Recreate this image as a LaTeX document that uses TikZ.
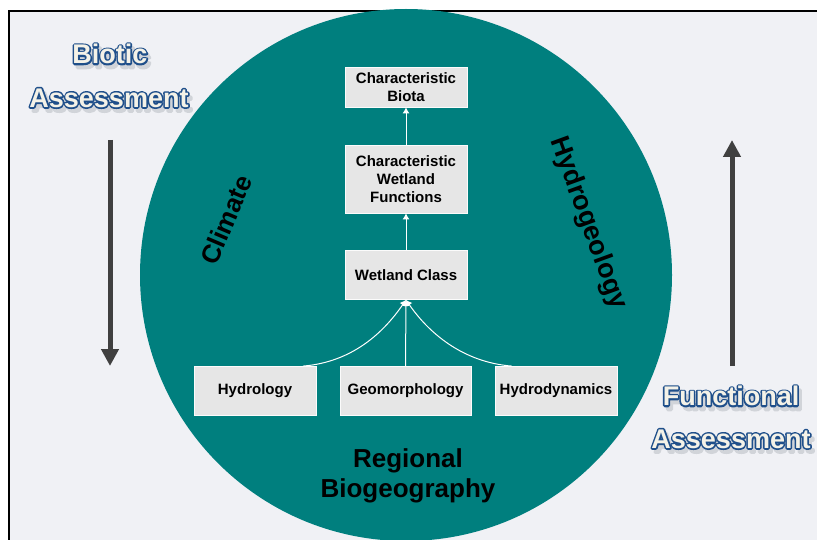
\documentclass[tikz,border=0pt]{standalone}
\usepackage{fontspec}
\setmainfont{Liberation Sans}
\usetikzlibrary{positioning, arrows.meta, calc}
\tikzset{>=latex}

\definecolor{wetteal}{HTML}{007F7E}
\definecolor{panel}{HTML}{F0F1F5}
\definecolor{boxgray}{HTML}{E6E6E6}
\definecolor{darkarrow}{HTML}{404040}
\definecolor{titleblue}{HTML}{1F4E8A}
\definecolor{titlefill}{HTML}{F4F2E8}
\definecolor{shade}{HTML}{D2D3D8}

\tikzset{
    boxnode/.style={draw=white!85!boxgray, line width=0.8pt, fill=boxgray, align=center,
        font=\bfseries\fontsize{15}{18}\selectfont, minimum width=122pt, inner sep=2pt},
    ringlabel/.style={font=\bfseries\fontsize{26}{30}\selectfont, text=black},
    titlefont/.style={font=\bfseries\fontsize{27}{30}\selectfont, inner sep=0pt},
    flow/.style={white, line width=1pt, -{Latex[length=6pt,width=7pt]}},
    bigarrow/.style={darkarrow, line width=5pt, -{Triangle[length=17pt,width=17pt]}}
}

% stroked glyphs (text render mode 2) for the outlined titles
\newcommand{\strokeon}[2]{\special{pdf:literal direct 2 Tr #1 w 1 j #2 RG}}
\newcommand{\strokeoff}{\special{pdf:literal direct 0 Tr}}
\newcommand{\outlinedword}[2]{%
    \node[titlefont, text=shade] at ($(#1)+(3,4)$) {\strokeon{3.2}{0.82 0.83 0.85}#2\strokeoff};
    \node[titlefont, text=titleblue] at (#1) {\strokeon{3.2}{0.12 0.31 0.54}#2\strokeoff};
    \node[titlefont, text=titlefill] at (#1) {#2};
}

\begin{document}
\begin{tikzpicture}[x=1pt, y=-1pt]
    \useasboundingbox (0,0) rectangle (817,540);
    \fill[white] (0,0) rectangle (817,540);
    \draw[black, line width=2pt, fill=panel] (8.5,11.5) rectangle (840,570);

    % the big disc
    \fill[wetteal] (406,275) circle[radius=266];

    % boxes
    \node[boxnode, minimum height=40pt] (biota) at (406,87) {Characteristic\\Biota};
    \node[boxnode, minimum height=68pt] (functions) at (406,179) {Characteristic\\Wetland\\Functions};
    \node[boxnode, minimum height=49pt] (class) at (406,275) {Wetland Class};
    \node[boxnode, minimum height=49pt] (hydrology) at (255,391) {Hydrology};
    \node[boxnode, minimum height=49pt, minimum width=131pt] (geomorph) at (405.5,391) {Geomorphology};
    \node[boxnode, minimum height=49pt] (hydrodyn) at (556,391) {Hydrodynamics};

    \coordinate (hleft) at ($(hydrology.north)!0.78!(hydrology.north east)$);
    \coordinate (hright) at ($(hydrodyn.north)!0.72!(hydrodyn.north west)$);

    % connectors
    \draw[flow] (hleft) .. controls +(50,-4) and +(-22,32) .. (class.south);
    \draw[flow] (hright) .. controls +(-50,-4) and +(22,32) .. (class.south);
    \draw[flow] (geomorph.north) -- (class.south);
    \draw[flow] (class.north) -- (functions.south);
    \draw[flow] (functions.north) -- (biota.south);

    % labels round the disc
    \node[ringlabel, rotate=67] (climate) at (226,220) {Climate};
    \node[ringlabel, rotate=-70, font=\bfseries\fontsize{27}{30}\selectfont] (hydrogeo) at (588,223) {Hydrogeology};
    \node[ringlabel, align=center] (biogeo) at (408,476) {Regional\\Biogeography};

    % assessment directions
    \coordinate (btop) at (110,140);
    \coordinate (bbot) at (110,366);
    \coordinate (ftop) at (732,140);
    \coordinate (fbot) at (732,366);
    \draw[bigarrow] (btop) -- (bbot);
    \draw[bigarrow] (fbot) -- (ftop);

    \outlinedword{110,54}{Biotic}
    \outlinedword{109,98}{Assessment}
    \outlinedword{731,396}{Functional}
    \outlinedword{731,439}{Assessment}
\end{tikzpicture}
\end{document}
